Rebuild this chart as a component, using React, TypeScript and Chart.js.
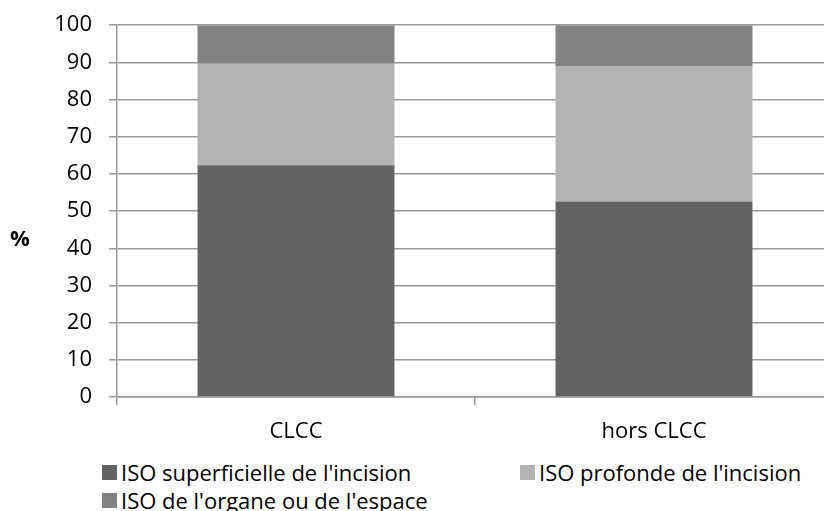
import React, { useEffect, useRef } from "react";
import { Chart, registerables } from "chart.js";

Chart.register(...registerables);

const categories = ["CLCC", "hors CLCC"];
const seriesLabels = [
  "ISO superficielle de l'incision",
  "ISO profonde de l'incision",
  "ISO de l'organe ou de l'espace",
];
const superficielle = [62.3, 52.6];
const profonde = [27.3, 36.4];
const organe = [10.4, 11.0];
const seriesColors = ["#636363", "#b3b3b3", "#828282"];
const yMin = 0;
const yMax = 100;
const yStep = 10;
const yAxisTitle = "%";

const FONT = "'Open Sans', sans-serif";
const GRID = "#999999";

export default function App() {
  const canvasRef = useRef<HTMLCanvasElement | null>(null);

  useEffect(() => {
    if (!canvasRef.current) return;
    const seriesValues = [superficielle, profonde, organe];
    const chart = new Chart(canvasRef.current, {
      type: "bar",
      data: {
        labels: categories,
        datasets: seriesLabels.map((label, i) => ({
          label,
          data: seriesValues[i],
          backgroundColor: seriesColors[i],
          borderWidth: 0,
          categoryPercentage: 1,
          barPercentage: 0.55,
        })),
      },
      options: {
        responsive: false,
        animation: false,
        devicePixelRatio: 1,
        layout: { padding: { top: 20, left: 0, right: 1, bottom: 0 } },
        plugins: {
          legend: { display: false },
          tooltip: { enabled: false },
        },
        scales: {
          x: {
            stacked: true,
            grid: {
              offset: true,
              drawOnChartArea: false,
              drawTicks: true,
              tickLength: 8,
              color: GRID,
              lineWidth: 1.5,
            },
            border: { display: true, color: GRID, width: 1.5 },
            ticks: {
              color: "#000",
              font: { family: FONT, size: 22 },
              padding: 14,
              maxRotation: 0,
            },
            afterFit: (s: any) => {
              s.height = 53;
            },
          },
          y: {
            stacked: true,
            min: yMin,
            max: yMax,
            ticks: {
              stepSize: yStep,
              color: "#000",
              font: { family: FONT, size: 22 },
              padding: 17,
            },
            grid: {
              color: GRID,
              lineWidth: 1.5,
              tickLength: 8,
              drawTicks: true,
            },
            border: { display: true, color: GRID, width: 1.5 },
            afterFit: (s: any) => {
              s.width = 117;
            },
          },
        },
      },
    });
    return () => chart.destroy();
  }, []);

  const legendItems = [
    { i: 0, left: 102, top: 458 },
    { i: 1, left: 520, top: 458 },
    { i: 2, left: 102, top: 486 },
  ];

  return (
    <div
      style={{
        position: "fixed",
        left: 0,
        top: 0,
        width: 824,
        height: 511,
        overflow: "hidden",
        background: "#fff",
        fontFamily: FONT,
      }}
    >
      <canvas
        ref={canvasRef}
        width={834}
        height={455}
        style={{ position: "absolute", left: 0, top: -5, width: 834, height: 455 }}
      />
      <div
        style={{
          position: "absolute",
          left: 10,
          top: 222,
          fontSize: 22,
          fontWeight: 700,
          lineHeight: "30px",
          color: "#000",
        }}
      >
        {yAxisTitle}
      </div>
      {legendItems.map(({ i, left, top }) => (
        <div
          key={i}
          style={{
            position: "absolute",
            left,
            top,
            height: 28,
            display: "flex",
            alignItems: "center",
            whiteSpace: "nowrap",
            fontSize: 22,
            color: "#000",
          }}
        >
          <span
            style={{
              display: "inline-block",
              width: 15,
              height: 15,
              background: seriesColors[i],
              marginRight: 4,
            }}
          />
          <span>{seriesLabels[i]}</span>
        </div>
      ))}
    </div>
  );
}
